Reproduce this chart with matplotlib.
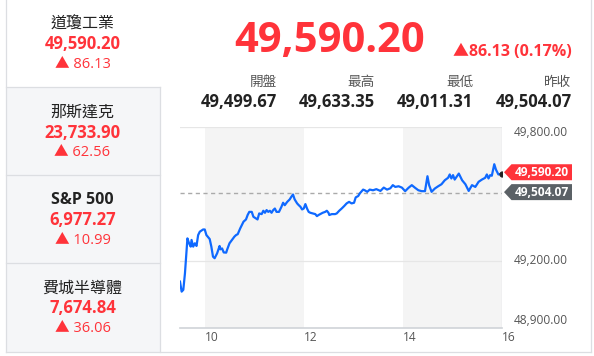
import matplotlib
matplotlib.use("Agg")
import matplotlib.pyplot as plt
from matplotlib.patches import Polygon, Rectangle
from matplotlib.lines import Line2D
from matplotlib.transforms import IdentityTransform

plt.rcParams['font.family'] = ['Open Sans', 'Noto Sans CJK TC', 'DejaVu Sans']

# ---------------- data ----------------
indices = ["道瓊工業", "那斯達克", "S&P 500", "費城半導體"]
index_prices = ["49,590.20", "23,733.90", "6,977.27", "7,674.84"]
index_changes = ["86.13", "62.56", "10.99", "36.06"]

main_price = "49,590.20"
main_change = "86.13 (0.17%)"
stat_labels = ["開盤", "最高", "最低", "昨收"]
stat_values = ["49,499.67", "49,633.35", "49,011.31", "49,504.07"]

prev_close = 49504.07
last_price = 49590.20

minutes = [0, 2, 4, 6, 9, 11, 13, 14, 16, 18, 20, 22, 24, 28, 30, 32, 36, 38, 40, 42,
           45, 48, 49, 51, 53, 56, 57, 60, 63, 66, 68, 70, 73, 75, 77, 80, 82, 84, 87, 89,
           92, 94, 96, 99, 101, 103, 105, 107, 109, 111, 113, 115, 117, 120, 123, 125, 127, 130, 133, 135,
           137, 139, 142, 144, 146, 148, 150, 152, 154, 156, 158, 161, 164, 166, 168, 170, 173, 176, 178, 180,
           181, 184, 188, 190, 193, 196, 199, 202, 205, 208, 211, 213, 216, 218, 222, 224, 227, 230, 234, 238,
           243, 247, 251, 255, 258, 261, 265, 269, 273, 277, 281, 285, 289, 293, 297, 300, 302, 305, 309, 313,
           317, 321, 325, 327, 329, 331, 333, 338, 342, 346, 350, 354, 358, 362, 366, 370, 372, 374, 376, 378,
           381, 383, 386, 390]
values = [49106, 49061, 49069, 49143, 49300, 49278, 49263, 49293, 49263, 49278,
          49266, 49315, 49330, 49340, 49340, 49315, 49297, 49263, 49218, 49211,
          49233, 49266, 49251, 49255, 49237, 49236, 49248, 49278, 49293, 49308,
          49315, 49319, 49345, 49360, 49375, 49385, 49405, 49419, 49419, 49397,
          49390, 49385, 49412, 49409, 49424, 49415, 49427, 49419, 49424, 49415,
          49427, 49434, 49419, 49419, 49442, 49460, 49449, 49464, 49475, 49487,
          49497, 49475, 49457, 49449, 49442, 49430, 49434, 49454, 49434, 49419,
          49415, 49412, 49409, 49400, 49405, 49409, 49415, 49419, 49424, 49415,
          49405, 49409, 49409, 49412, 49424, 49434, 49445, 49457, 49464, 49457,
          49460, 49484, 49490, 49502, 49519, 49516, 49509, 49519, 49516, 49521,
          49513, 49528, 49519, 49525, 49539, 49531, 49534, 49528, 49512, 49527,
          49539, 49527, 49516, 49512, 49512, 49579, 49539, 49509, 49524, 49534,
          49543, 49561, 49572, 49587, 49569, 49584, 49564, 49591, 49561, 49543,
          49513, 49539, 49531, 49554, 49564, 49572, 49587, 49569, 49584, 49581,
          49633, 49609, 49587, 49590.20]

x_ticks = [10, 12, 14, 16]
y_ticks = [49800, 49200, 48900]
y_tick_labels = ["49,800.00", "49,200.00", "48,900.00"]

# ---------------- figure ----------------
W, H = 594, 356
fig = plt.figure(figsize=(W / 100, H / 100), dpi=100)
fig.patch.set_facecolor("white")

RED = "#ff333a"
DARK = "#222222"
GRAY_TXT = "#555555"
BORDER = "#dcdee2"


def T(x, y, s, **kw):
    fig.text(x / W, 1 - y / H, s, **kw)


def fx(x):
    return x / W


def fy(y):
    return 1 - y / H


# left panel: cells
cell_tops = [0, 87.3, 175.3, 263.3]
cell_bottom = 352
lx0, lx1 = 5.7, 159.5
for i in range(1, 4):
    top = cell_tops[i]
    bot = cell_tops[i + 1] if i < 3 else cell_bottom
    fig.patches.append(Rectangle((fx(lx0), fy(bot)), fx(lx1 - lx0), (bot - top) / H,
                                 transform=fig.transFigure, facecolor="#f5f6f8",
                                 edgecolor="none", zorder=0))
for y in cell_tops[1:]:
    fig.lines.append(Line2D([fx(lx0), fx(lx1)], [fy(y), fy(y)], transform=fig.transFigure,
                            color=BORDER, lw=0.9))
fig.lines.append(Line2D([fx(lx1), fx(lx1)], [fy(87.3), fy(cell_bottom)], transform=fig.transFigure,
                        color=BORDER, lw=0.9))
fig.lines.append(Line2D([fx(lx0), fx(lx0)], [fy(0), fy(cell_bottom)], transform=fig.transFigure,
                        color=BORDER, lw=0.9))
fig.lines.append(Line2D([fx(lx0), fx(591)], [fy(cell_bottom), fy(cell_bottom)], transform=fig.transFigure,
                        color=BORDER, lw=0.9))
fig.lines.append(Line2D([fx(591), fx(591)], [fy(0), fy(cell_bottom)], transform=fig.transFigure,
                        color=BORDER, lw=0.9))

cx = 82.5
title_y = [24.3, 112.7, 200.0, 288.3]
for i in range(4):
    ty = title_y[i]
    weight = "bold" if indices[i].startswith("S&P") else "normal"
    T(cx, ty, indices[i], ha="center", va="center", fontsize=11.5, color=DARK, fontweight=weight)
    T(cx, ty + 20, index_prices[i], ha="center", va="center", fontsize=12, color=RED, fontweight="bold")
    T(cx, ty + 40, "▲ " + index_changes[i], ha="center", va="center", fontsize=10.5, color=RED)

# header
T(330, 41.7, main_price, ha="center", va="center", fontsize=30, color=RED, fontweight="bold")
T(571.7, 51.7, "▲" + main_change, ha="right", va="center", fontsize=11.5, color=RED, fontweight="bold")
stat_right = [276.7, 375.0, 473.3, 571.7]
for i in range(4):
    T(stat_right[i], 82.7, stat_labels[i], ha="right", va="center", fontsize=9.8, color=GRAY_TXT)
    T(stat_right[i], 101.7, stat_values[i], ha="right", va="center", fontsize=12, color=DARK,
      fontweight="bold")

# ---------------- chart ----------------
pl, pr, pt, pb = 180, 501.7, 127, 327.5
ax = fig.add_axes([pl / W, 1 - pb / H, (pr - pl) / W, (pb - pt) / H])
ax.set_xlim(9.5, 16)
ax.set_ylim(48900, 49800)
ax.set_facecolor("white")
for s in ax.spines.values():
    s.set_visible(False)
ax.set_xticks([])
ax.set_yticks([])

ax.axvspan(10, 12, color="#f4f4f4", lw=0, zorder=0)
ax.axvspan(14, 16, color="#f4f4f4", lw=0, zorder=0)
for yv in [49800, 49200]:
    ax.axhline(yv, color="#e6e6e6", lw=0.9, zorder=1)
ax.axhline(48900, color="#cfd3d8", lw=1.2, zorder=1, clip_on=False)
ax.axvline(16, color="#d8dbe0", lw=0.9, zorder=1)
ax.axhline(prev_close, color="#aaaaaa", lw=1.0, ls=(0, (3, 2.5)), zorder=2)

hours = [9.5 + m / 60 for m in minutes]
ax.plot(hours, values, color="#0f69ff", lw=1.6, zorder=3, solid_joinstyle="round")
ax.plot([hours[-1]], [values[-1]], "o", color="#222222", ms=3.5, zorder=4)

# y tick labels (right side)
y_offsets = [-5, 0, 7]
for yv, lab, off in zip(y_ticks, y_tick_labels, y_offsets):
    ax.annotate(lab, xy=(1, yv), xycoords=("axes fraction", "data"),
                xytext=(9.0, off * 0.72), textcoords="offset points",
                ha="left", va="center", fontsize=8.6, color=GRAY_TXT, annotation_clip=False)

# x tick labels
for xv in x_ticks:
    ax.annotate(str(xv), xy=(xv, 48900), xycoords="data",
                xytext=(6.7 * 0.72, -7.2), textcoords="offset points",
                ha="center", va="center", fontsize=8.6, color=GRAY_TXT, annotation_clip=False)

# price tags
fig.canvas.draw()


def tag(value, color, text, dy):
    _, ypix = ax.transData.transform((16, value))
    ypix = ypix + dy
    tip, x0, x1, h = 504, 511.5, 572, 16
    pts = [(tip, ypix), (x0, ypix + h / 2), (x1, ypix + h / 2), (x1, ypix - h / 2), (x0, ypix - h / 2)]
    fig.patches.append(Polygon(pts, closed=True, transform=IdentityTransform(), facecolor=color,
                               edgecolor="none", zorder=5))
    fig.text((x0 + x1) / 2 / W, ypix / H, text, ha="center", va="center", fontsize=8.6,
             color="white", fontweight="bold", zorder=6)


tag(last_price, RED, "49,590.20", 1.5)
tag(prev_close, "#5b6166", "49,504.07", 0.8)

fig.savefig("out.png", dpi=100, facecolor="white")
